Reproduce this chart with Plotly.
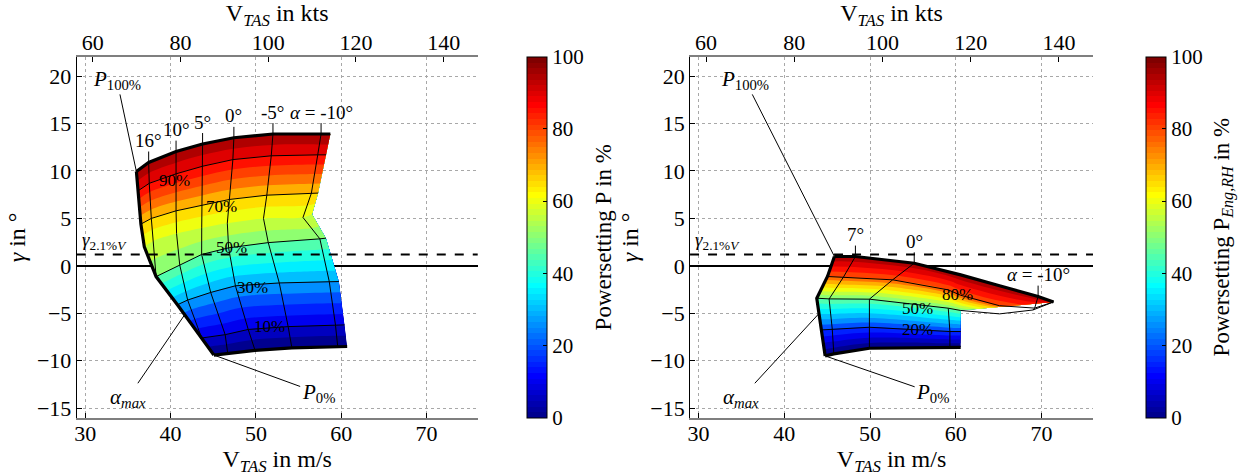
import numpy as np
import plotly.graph_objects as go

KT = 0.514444          # m/s per knot
GAMMA_21V = 1.2        # climb angle for 2.1 % gradient, deg
FONT = "Liberation Serif"

# ---------------- left panel: power setting P (both engines) ----------------
L_POWER = [0, 10, 30, 50, 60, 70, 90, 100]
L_ALPHA = ["amax", "16°", "10°", "5°", "0°", "-5°", "-10°", "edge"]
L_V = [
    [45.07, 45.07, 45.07, 46.70, 49.90, 54.22, 59.59, 60.70],
    [43.64, 43.64, 43.64, 46.40, 49.10, 53.78, 59.33, 60.39],
    [40.80, 40.80, 42.00, 44.70, 47.60, 52.74, 58.60, 59.73],
    [38.30, 38.30, 41.07, 43.64, 46.80, 51.45, 57.50, 58.22],
    [36.92, 37.93, 40.70, 43.65, 46.65, 50.89, 55.52, 56.60],
    [36.52, 37.74, 40.64, 43.70, 46.90, 51.28, 56.50, 57.30],
    [36.17, 37.50, 40.64, 43.75, 47.30, 51.80, 57.25, 58.23],
    [35.99, 37.43, 40.64, 43.75, 47.42, 52.00, 57.64, 58.73],
]
L_GAMMA = [
    [-9.4, -9.4, -9.4, -9.25, -8.9, -8.65, -8.5, -8.5],
    [-7.6, -7.6, -7.6, -7.25, -6.7, -6.4, -6.25, -6.22],
    [-4.1, -4.1, -3.6, -2.8, -2.1, -1.8, -1.65, -1.65],
    [-1.13, -1.13, 0.1, 1.2, 1.9, 2.45, 2.85, 2.92],
    [2.0, 2.6, 3.4, 4.0, 4.5, 5.0, 5.1, 5.45],
    [4.4, 5.0, 5.8, 6.4, 7.0, 7.45, 7.65, 7.67],
    [7.9, 8.7, 9.7, 10.5, 11.2, 11.6, 11.7, 11.7],
    [9.95, 10.9, 12.05, 12.85, 13.5, 13.9, 13.9, 13.9],
]
L_POWER_LINES = [10, 30, 50, 70, 90]
L_ALPHA_LINES = {"16°": (0, 8), "10°": (0, 8), "5°": (0, 8), "0°": (0, 8), "-5°": (0, 8), "-10°": (0, 8)}
L_ALPHA_TEXT = {"16°": "16°", "10°": "10°", "5°": "5°", "0°": "0°", "-5°": "-5°", "-10°": "<i>α</i> = -10°"}
L_POWER_LABEL_AT = {90: (40.4, 9.0), 70: (46.0, 6.3), 50: (47.1, 1.9), 30: (49.6, -2.25), 10: (51.6, -6.35)}
L_LEADERS = {"p100": (33.7, 19.6), "p0": (57.3, -13.4), "amax": (35.0, -13.9), "amax_frac": 0.7}

# ---------------- right panel: power setting of right engine ----------------
R_POWER = [0, 20, 49.9, 50, 80, 100]
R_ALPHA = ["amax", "7°", "0°", "c", "edge", "m", "-10°", "tip"]
R_V = [
    [44.76, 45.77, 49.92, 59.31, 60.57, 60.57, 60.57, 60.57],
    [44.33, 45.59, 49.92, 59.31, 60.57, 60.57, 60.57, 60.57],
    [43.78, 45.22, 49.92, 59.12, 60.57, 60.57, 60.57, 60.57],
    [43.78, 45.22, 49.92, 59.12, 60.57, 65.10, 69.00, 71.40],
    [45.03, 46.89, 52.63, 59.12, 60.57, 65.10, 69.20, 71.40],
    [45.84, 48.29, 55.15, 59.31, 60.57, 65.10, 69.60, 71.40],
]
R_GAMMA = [
    [-9.49, -9.28, -8.68, -8.58, -8.58, -8.58, -8.58, -8.58],
    [-6.75, -6.68, -6.47, -6.92, -6.92, -6.92, -6.92, -6.92],
    [-3.42, -3.49, -3.52, -4.47, -4.70, -4.70, -4.70, -4.70],
    [-3.41, -3.48, -3.51, -4.46, -4.70, -5.06, -4.65, -3.80],
    [-1.12, -1.19, -1.47, -2.53, -3.10, -4.20, -4.45, -3.80],
    [0.99, 0.99, 0.28, -0.60, -0.95, -2.10, -3.23, -3.80],
]
R_POWER_LINES = [20, 50, 80]
R_ALPHA_LINES = {"7°": (0, 6), "0°": (0, 6), "c": (0, 4), "-10°": (3, 6)}
R_ALPHA_TEXT = {"7°": "7°", "0°": "0°", "-10°": "<i>α</i> = -10°"}
R_POWER_LABEL_AT = {80: (60.2, -3.06), 50: (55.5, -4.46), 20: (55.5, -6.75)}
R_LEADERS = {"p100": (35.4, 19.6), "p0": (57.3, -13.4), "amax": (35.0, -13.9), "amax_frac": 0.52}


def jet(m=64):
    n = int(np.ceil(m / 4))
    u = np.concatenate([np.arange(1, n + 1) / n, np.ones(n - 1), np.arange(n, 0, -1) / n])
    g = int(np.ceil(n / 2)) - (1 if m % 4 == 1 else 0) + np.arange(1, len(u) + 1)
    J = np.zeros((m, 3))
    for idx, ch in ((g + n, 0), (g, 1), (g - n, 2)):
        ok = (idx >= 1) & (idx <= m)
        J[idx[ok] - 1, ch] = u[ok]
    return J


JET = jet(64)


def rgb(c):
    return "rgb(%d,%d,%d)" % tuple(int(v) for v in np.round(np.asarray(c) * 255))


def jet_index(v):
    return min(63, int(np.floor(v / 100 * 64)))


# 64-step colourbar
CB_SCALE = []
for i, c in enumerate(JET):
    CB_SCALE += [[i / 64, rgb(c)], [(i + 1) / 64, rgb(c)]]

# filled bands every 5 %, coloured by their lower level
STEP = 5
N_LEV = int(100 / STEP) + 1
BAND_SCALE = [[0.0, rgb(JET[jet_index(0)])]]
for k in range(N_LEV):
    BAND_SCALE.append([(k + 1) / N_LEV, rgb(JET[jet_index(k * STEP)])])
BAND_SCALE[-1][0] = 1.0

Y_DOM = [0.1225, 0.880]

fig = go.Figure()

ax_cfg = {
    "L": dict(x="x", y="y", dom=[0.0617, 0.3840], cbx=527 / 1244, cbt=603 / 1244,
              cbtitle="Powersetting P in %"),
    "R": dict(x="x2", y="y2", dom=[0.5547, 0.8786], cbx=1146 / 1244, cbt=1223 / 1244,
              cbtitle="Powersetting P<sub><i>Eng,RH</i></sub> in %"),
}


def line_trace(xs, ys, xa, ya, width=1):
    return go.Scatter(x=list(xs), y=list(ys), mode="lines", xaxis=xa, yaxis=ya,
                      line=dict(color="black", width=width), hoverinfo="skip",
                      showlegend=False)


def add_panel(key, power, alpha, V, G, p_lines, a_lines, a_text, p_label_at, leaders):
    cfg = ax_cfg[key]
    xa, ya = cfg["x"], cfg["y"]
    V = np.asarray(V)
    G = np.asarray(G)
    a_idx = list(range(len(alpha)))
    hidden = dict(showgrid=False, showline=False, showticklabels="none",
                  startline=False, endline=False, smoothing=0, minorgridcount=0)
    fig.add_trace(go.Carpet(carpet="c" + key, a=a_idx, b=power, x=V.tolist(), y=G.tolist(),
                            xaxis=xa, yaxis=ya, aaxis=hidden, baxis=hidden))
    Z = [[p] * len(alpha) for p in power]
    fig.add_trace(go.Contourcarpet(carpet="c" + key, a=a_idx, b=power, z=Z,
                                   xaxis=xa, yaxis=ya, autocontour=False,
                                   contours=dict(start=0, end=100, size=STEP,
                                                 coloring="fill", showlines=False),
                                   line=dict(width=0), colorscale=BAND_SCALE,
                                   showscale=False))
    # constant power lines
    for p in p_lines:
        i = power.index(p)
        fig.add_trace(line_trace(V[i], G[i], xa, ya))
    # constant angle of attack lines
    for name, (i0, i1) in a_lines.items():
        j = alpha.index(name)
        fig.add_trace(line_trace(V[i0:i1, j], G[i0:i1, j], xa, ya))
    # envelope: P = 0 %, P = 100 %, alpha_max
    fig.add_trace(line_trace(V[-1], G[-1], xa, ya, 3.2))
    fig.add_trace(line_trace(V[0], G[0], xa, ya, 3.2))
    fig.add_trace(line_trace(V[:, 0], G[:, 0], xa, ya, 3.2))
    # alpha tick marks and labels above the upper boundary
    tx, ty = [], []
    for name, txt in a_text.items():
        j = alpha.index(name)
        x0, y0 = float(V[-1, j]), float(G[-1, j])
        tx += [x0, x0, None]
        ty += [y0, y0 + 1.15, None]
        fig.add_annotation(x=x0, y=y0 + 1.1, xref=xa, yref=ya, text=txt, showarrow=False,
                           yanchor="bottom", xanchor="center", borderpad=0,
                           font=dict(family=FONT, size=19, color="black"))
    fig.add_trace(line_trace(tx, ty, xa, ya))
    # power labels
    for p, (lx, ly) in p_label_at.items():
        fig.add_annotation(x=lx, y=ly, xref=xa, yref=ya, text="%d%%" % p, showarrow=False,
                           font=dict(family=FONT, size=17, color="black"))
    # leader annotations
    lead = dict(showarrow=True, arrowhead=0, arrowwidth=1, arrowcolor="black",
                xref=xa, yref=ya, axref=xa, ayref=ya,
                font=dict(family=FONT, size=21, color="black"))
    fig.add_annotation(x=float(V[-1, 0]), y=float(G[-1, 0]),
                       ax=leaders["p100"][0], ay=leaders["p100"][1],
                       text="<i>P</i><sub>100%</sub>", **lead)
    fig.add_annotation(x=float(V[0, 0]), y=float(G[0, 0]),
                       ax=leaders["p0"][0], ay=leaders["p0"][1],
                       text="<i>P</i><sub>0%</sub>", **lead)
    f = leaders["amax_frac"]
    bx = float((1 - f) * V[1, 0] + f * V[2, 0])
    by = float((1 - f) * G[1, 0] + f * G[2, 0])
    fig.add_annotation(x=bx, y=by, ax=leaders["amax"][0], ay=leaders["amax"][1],
                       text="<i>α<sub>max</sub></i>", **lead)
    fig.add_annotation(x=29.5, y=GAMMA_21V, xref=xa, yref=ya, showarrow=False,
                       xanchor="left", yanchor="bottom", borderpad=0,
                       text="<i>γ</i><sub>2.1%<i>V</i></sub>",
                       font=dict(family=FONT, size=19, color="black"))
    fig.add_shape(type="line", xref=xa + " domain", yref=ya, x0=0, x1=1,
                  y0=GAMMA_21V, y1=GAMMA_21V, layer="above",
                  line=dict(color="black", width=2, dash="dash"))
    # colourbar with its title set beside it
    cbar = dict(x=cfg["cbx"], xanchor="left", y=Y_DOM[0], yanchor="bottom",
                len=Y_DOM[1] - Y_DOM[0], lenmode="fraction", thickness=20, xpad=0, ypad=0,
                outlinewidth=1, outlinecolor="black", ticks="inside", ticklen=4,
                tickcolor="black", tickvals=[0, 20, 40, 60, 80, 100],
                tickfont=dict(family=FONT, size=21, color="black"))
    marker = dict(color=[0], cmin=0, cmax=100, colorscale=CB_SCALE,
                  showscale=True, colorbar=cbar)
    fig.add_trace(go.Scatter(x=[None], y=[None], mode="markers", xaxis=xa, yaxis=ya,
                             showlegend=False, hoverinfo="skip", marker=marker))
    fig.add_annotation(x=cfg["cbt"], y=0.5 * (Y_DOM[0] + Y_DOM[1]), xref="paper", yref="paper",
                       text=cfg["cbtitle"], textangle=-90, showarrow=False,
                       xanchor="center", yanchor="middle",
                       font=dict(family=FONT, size=23, color="black"))


add_panel("L", L_POWER, L_ALPHA, L_V, L_GAMMA, L_POWER_LINES, L_ALPHA_LINES,
          L_ALPHA_TEXT, L_POWER_LABEL_AT, L_LEADERS)
add_panel("R", R_POWER, R_ALPHA, R_V, R_GAMMA, R_POWER_LINES, R_ALPHA_LINES,
          R_ALPHA_TEXT, R_POWER_LABEL_AT, R_LEADERS)

tick_font = dict(family=FONT, size=22, color="black")
title_font = dict(family=FONT, size=24, color="black")
V_RANGE = [29, 76]
G_RANGE = [-16, 22]
GRID = dict(showgrid=True, gridcolor="#a8a8a8", gridwidth=1, griddash="dot")

for n, key in ((1, "L"), (2, "R")):
    cfg = ax_cfg[key]
    sfx = "" if n == 1 else str(n)
    fig.layout["xaxis" + sfx] = dict(
        domain=cfg["dom"], range=V_RANGE, anchor="y" + sfx, tickvals=[30, 40, 50, 60, 70],
        ticks="inside", ticklen=5, tickcolor="black", showline=True, linecolor="#7f7f7f",
        linewidth=2, zeroline=False, tickfont=tick_font, automargin=False,
        ticklabelstandoff=-5,
        title=dict(text="V<sub><i>TAS</i></sub> in m/s", font=title_font, standoff=2), **GRID)
    fig.layout["yaxis" + sfx] = dict(
        domain=Y_DOM, range=G_RANGE, anchor="x" + sfx,
        tickvals=[-15, -10, -5, 0, 5, 10, 15, 20], ticks="inside", ticklen=5, tickcolor="black",
        showline=True, linecolor="black", linewidth=1, zeroline=True, zerolinecolor="black",
        zerolinewidth=2, tickfont=tick_font, automargin=False,
        title=dict(text="<i>γ</i> in °", font=title_font, standoff=4), **GRID)
    fig.layout["xaxis" + str(n + 2)] = dict(
        overlaying="x" + sfx, anchor="y" + sfx, side="top",
        range=[V_RANGE[0] / KT, V_RANGE[1] / KT], tickvals=[60, 80, 100, 120, 140],
        ticks="inside", ticklen=5, tickcolor="black", showline=True, linecolor="#7f7f7f",
        linewidth=2, zeroline=False, showgrid=False, tickfont=tick_font, automargin=False,
        ticklabelstandoff=-4,
        title=dict(text="V<sub><i>TAS</i></sub> in kts", font=title_font, standoff=9))

# invisible traces to activate the knot axes
fig.add_trace(go.Scatter(x=[None], y=[None], xaxis="x3", yaxis="y", showlegend=False))
fig.add_trace(go.Scatter(x=[None], y=[None], xaxis="x4", yaxis="y2", showlegend=False))

fig.update_layout(width=1244, height=476, margin=dict(l=0, r=0, t=0, b=0),
                  plot_bgcolor="white", paper_bgcolor="white", showlegend=False,
                  font=dict(family=FONT, color="black"))
fig.write_html("out.html")
